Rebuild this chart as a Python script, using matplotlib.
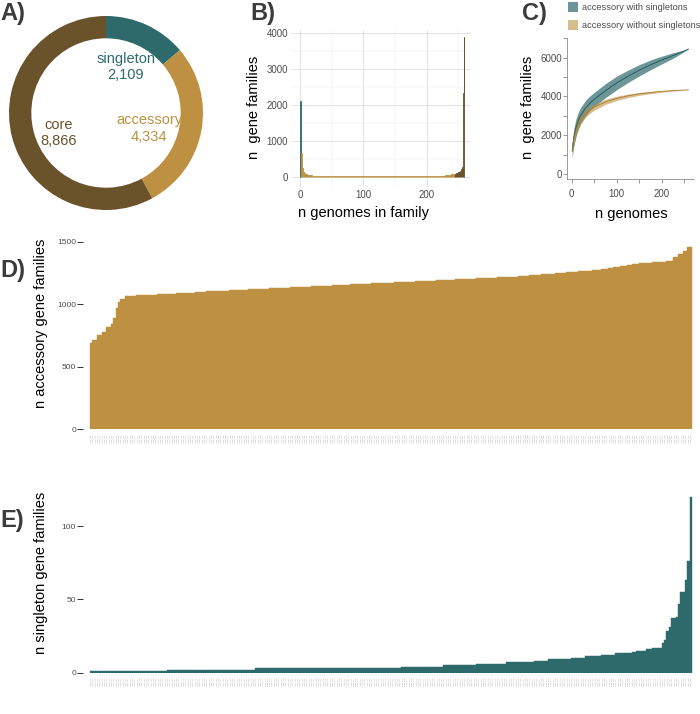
import matplotlib
matplotlib.use('Agg')
import matplotlib.pyplot as plt
import numpy as np
from matplotlib.patches import Rectangle

plt.rcParams['font.family'] = ['Liberation Sans', 'DejaVu Sans']

W, H = 700, 714

teal = '#2e6a6b'
gold = '#bd9141'
brown = '#6a522a'
tick_col = '#4d4d4d'

# A) pangenome partition
pie_labels = ['singleton', 'accessory', 'core']
pie_values = [2109, 4334, 8866]
pie_colors = [teal, gold, brown]

# B) n genomes in family histogram
singleton_n = [1]
singleton_count = [2109]
acc_n = list(range(2, 245))
acc_count = [
    660, 380, 250, 185, 145, 120, 104, 92, 82, 74,
    68, 63, 58, 54, 51, 48, 45, 43, 41, 39,
    38, 37, 36, 35, 34, 33, 33, 32, 31, 31,
    30, 30, 29, 29, 28, 28, 28, 27, 27, 27,
    26, 26, 26, 25, 25, 25, 25, 24, 24, 24,
    24, 24, 23, 23, 23, 23, 23, 22, 22, 22,
    22, 22, 22, 21, 21, 21, 21, 21, 21, 20,
    20, 21, 20, 20, 19, 20, 20, 21, 20, 20,
    19, 20, 20, 19, 20, 21, 20, 19, 20, 20,
    20, 19, 20, 21, 20, 19, 20, 20, 19, 20,
    21, 20, 19, 20, 20, 20, 19, 20, 21, 20,
    19, 20, 20, 20, 21, 20, 19, 20, 20, 19,
    20, 21, 20, 19, 20, 20, 20, 21, 20, 20,
    19, 20, 20, 20, 21, 20, 19, 20, 20, 20,
    20, 19, 20, 21, 20, 20, 19, 20, 21, 20,
    20, 20, 21, 20, 19, 20, 20, 20, 20, 21,
    20, 19, 20, 20, 20, 21, 20, 20, 19, 20,
    20, 20, 21, 20, 20, 21, 20, 21, 20, 21,
    20, 21, 21, 20, 21, 21, 21, 20, 21, 21,
    21, 21, 22, 21, 21, 21, 21, 22, 21, 21,
    21, 21, 22, 22, 22, 23, 23, 24, 24, 25,
    25, 26, 26, 27, 28, 28, 29, 30, 31, 32,
    33, 34, 35, 36, 38, 39, 41, 43, 45, 47,
    49, 52, 55, 58, 61, 64, 68, 72, 76, 80,
    85, 90, 96,
]
core_n = list(range(245, 260))
core_count = [90, 100, 108, 115, 122, 130, 140, 152, 168, 190, 225, 290, 786, 2350, 3900]

# C) accumulation curves
curve_n = [1, 3, 5, 10, 15, 20, 30, 40, 50, 75, 100, 125, 150, 175, 200, 225, 259]
with_sing_mean = [1180, 1650, 1950, 2450, 2780, 3020, 3380, 3640, 3850, 4300, 4700, 5040, 5350, 5630, 5880, 6110, 6443]
with_sing_half = [350, 420, 450, 450, 440, 420, 400, 380, 360, 360, 350, 320, 290, 250, 200, 140, 0]
without_sing_mean = [1180, 1600, 1850, 2300, 2600, 2800, 3100, 3300, 3450, 3720, 3900, 4030, 4130, 4200, 4260, 4300, 4334]
without_sing_half = [300, 300, 280, 250, 230, 210, 190, 170, 160, 130, 110, 90, 75, 60, 45, 30, 0]
legend_labels = ['accessory with singletons', 'accessory without singletons']

# D) accessory gene families per genome (sorted)
acc_per_genome = [
    693, 714, 714, 754, 754, 781, 781, 821, 821, 840,
    888, 968, 1021, 1040, 1040,
    1066, 1067, 1068, 1069, 1070, 1071, 1072, 1072, 1073, 1074,
    1075, 1076, 1077, 1078, 1079, 1080, 1081, 1082, 1083, 1084,
    1085, 1086, 1087, 1088, 1089, 1090, 1091, 1092, 1093, 1094,
    1096, 1097, 1099, 1101,
    1102, 1103, 1104, 1104, 1105, 1106, 1107, 1108, 1109, 1110,
    1110, 1111, 1112, 1113, 1114, 1115, 1116, 1117, 1118, 1119,
    1120, 1120, 1121, 1122, 1123, 1124, 1125, 1126, 1127, 1128,
    1129, 1130, 1130, 1131, 1132, 1133, 1134, 1135, 1136, 1137,
    1138, 1139, 1140, 1140, 1141, 1142, 1143, 1144, 1145, 1146,
    1147, 1148, 1149, 1150, 1150, 1151, 1152, 1153, 1154, 1155,
    1156, 1157, 1158, 1159, 1160, 1160, 1161, 1162, 1163, 1164,
    1165, 1166, 1167, 1168, 1169, 1170, 1170, 1171, 1172, 1172,
    1173,
    1174, 1175, 1176, 1177, 1178, 1179, 1180, 1181, 1181, 1182,
    1183, 1184, 1185, 1186, 1187, 1188, 1189, 1190, 1190, 1191,
    1192, 1193, 1194, 1195, 1196, 1197, 1198, 1199, 1199, 1200,
    1201, 1202, 1203, 1204, 1205, 1206, 1207, 1208, 1208, 1209,
    1210, 1211, 1212, 1213, 1214, 1215, 1216, 1217, 1218, 1219,
    1220, 1220, 1221,
    1222, 1224, 1225, 1227, 1228, 1230, 1231, 1233, 1234, 1236,
    1237, 1239, 1240, 1242, 1243, 1245, 1246, 1248, 1249, 1251,
    1252, 1254, 1255, 1257, 1258, 1260, 1261, 1263, 1264, 1266,
    1267, 1269, 1270, 1272, 1273, 1274,
    1277, 1280, 1283, 1286, 1289, 1292, 1295, 1298, 1301, 1304,
    1307, 1310, 1313, 1316, 1319, 1322, 1325, 1328,
    1329, 1330, 1332, 1333, 1334, 1336, 1337, 1338, 1340, 1341,
    1342, 1344, 1345, 1346,
    1381, 1381, 1402, 1402, 1429, 1429, 1461, 1461,
]

# E) singleton gene families per genome (sorted), as runs of equal values
sing_levels = [1, 2, 3, 4, 5, 6, 7, 8, 9, 10, 11, 12, 13, 14, 15, 16, 17,
               20, 22, 28, 31, 37, 38, 47, 55, 63, 76, 120]
sing_runs = [33, 38, 63, 18, 14, 13, 12, 6, 10, 6, 7, 6, 7, 2, 4, 3, 4,
             1, 1, 1, 1, 2, 1, 1, 2, 1, 1, 1]
sing_per_genome = np.repeat(sing_levels, sing_runs)

genome_names = ['isolate_%03d' % (i + 1) for i in range(len(acc_per_genome))]


def box(l, t, r, b):
    return [l / W, 1 - b / H, (r - l) / W, (b - t) / H]


def edges(ns):
    ns = np.asarray(ns, dtype=float)
    return np.append(ns - 0.5, ns[-1] + 0.5)


fig = plt.figure(figsize=(W / 100, H / 100), dpi=100)


def ftext(x, y, s, **kw):
    fig.text(x / W, 1 - y / H, s, **kw)


# panel letters
for letter, x, y in [('A)', 0, 20), ('B)', 250, 20), ('C)', 522, 20),
                     ('D)', 0, 277), ('E)', 0, 527)]:
    ftext(x, y, letter, fontsize=17, fontweight='bold', color='#3c3c3c',
          ha='left', va='baseline')

# ---- A
axA = fig.add_axes(box(9, 16, 203, 210))
axA.pie(pie_values, colors=pie_colors, startangle=90, counterclock=False,
        radius=1, wedgeprops=dict(width=0.23, edgecolor='none'))
axA.set_xlim(-1, 1)
axA.set_ylim(-1, 1)
axA.set_aspect('equal')
axA.axis('off')
pie_pos = [(126, 63, 79), (149, 124, 141), (59, 129, 145)]
for lab, val, col, (x, y1, y2) in zip(pie_labels, pie_values, pie_colors, pie_pos):
    ftext(x, y1, lab, fontsize=10.5, color=col, ha='center', va='baseline')
    ftext(x, y2, f'{val:,}', fontsize=10.5, color=col, ha='center', va='baseline')

# ---- B
axB = fig.add_axes(box(291, 30, 470, 187))
axB.stairs(singleton_count, [0.2, 1.6], fill=True, facecolor=teal,
           edgecolor=teal, linewidth=0.6)
axB.stairs(acc_count, edges(acc_n), fill=True, facecolor=gold,
           edgecolor=gold, linewidth=0.6)
axB.stairs(core_count, edges(core_n), fill=True, facecolor=brown,
           edgecolor=brown, linewidth=0.6)
axB.set_xlim(-14.2, 268.3)
axB.set_ylim(-279, 4094)
axB.set_xticks([0, 100, 200])
axB.set_xticks([50, 150, 250], minor=True)
axB.set_yticks([0, 1000, 2000, 3000, 4000])
axB.set_yticks([500, 1500, 2500, 3500], minor=True)
axB.grid(which='major', color='#dedede', linewidth=0.6)
axB.grid(which='minor', color='#eeeeee', linewidth=0.35)
axB.set_axisbelow(True)
for s in axB.spines.values():
    s.set_visible(False)
axB.tick_params(which='both', length=0, labelsize=7, labelcolor=tick_col, pad=2)
ftext(254, 107, 'n  gene families', fontsize=10.5, rotation=90, ha='center', va='center')
ftext(363, 213, 'n genomes in family', fontsize=10.5, ha='center', va='center')

# ---- C
axC = fig.add_axes(box(567.3, 38, 694.3, 179.3))
axC.fill_between(curve_n, np.subtract(with_sing_mean, with_sing_half),
                 np.add(with_sing_mean, with_sing_half), color=teal, alpha=0.7, linewidth=0)
axC.plot(curve_n, with_sing_mean, color='#1f5253', linewidth=0.6)
axC.fill_between(curve_n, np.subtract(without_sing_mean, without_sing_half),
                 np.add(without_sing_mean, without_sing_half), color=gold, alpha=0.6, linewidth=0)
axC.plot(curve_n, without_sing_mean, color='#a97c30', linewidth=0.6)
axC.set_xlim(-10, 272)
axC.set_ylim(-280, 7014)
axC.set_xticks([0, 100, 200])
axC.set_xticks([50, 150, 250], minor=True)
axC.set_yticks([0, 2000, 4000, 6000])
axC.set_yticks([1000, 3000, 5000, 7000], minor=True)
for s in ['top', 'right']:
    axC.spines[s].set_visible(False)
for s in ['left', 'bottom']:
    axC.spines[s].set_color('#8a8a8a')
    axC.spines[s].set_linewidth(0.6)
axC.tick_params(which='both', length=2.6, width=0.6, color='#8a8a8a',
                labelsize=7, labelcolor=tick_col)
axC.tick_params(axis='y', which='major', pad=1.2)
axC.tick_params(axis='x', which='major', pad=4.5)
ftext(528, 107, 'n  gene families', fontsize=10.5, rotation=90, ha='center', va='center')
ftext(631, 214, 'n genomes', fontsize=10.5, ha='center', va='center')

for (y0, col, a), lab in zip([(2, teal, 0.7), (20, gold, 0.6)], legend_labels):
    fig.add_artist(Rectangle((568 / W, 1 - (y0 + 10) / H), 10 / W, 10 / H,
                             transform=fig.transFigure, facecolor=col, alpha=a,
                             edgecolor='none'))
    ftext(582, y0 + 5, lab, fontsize=6.7, color=tick_col, ha='left', va='center')

# ---- D and E
xpos = np.arange(len(acc_per_genome))
for top, bot, vals, col, ylim, yt, ylab, ylab_y in [
        (236, 429.3, acc_per_genome, gold, 1546, [0, 500, 1000, 1500],
         'n accessory gene families', 323),
        (490, 672.5, sing_per_genome, teal, 124.6, [0, 50, 100],
         'n singleton gene families', 573)]:
    ax = fig.add_axes(box(83, top, 698, bot))
    ax.bar(xpos, vals, width=1, color=col, edgecolor=col, linewidth=0.3)
    ax.set_xlim(-3.51, 261.08)
    ax.set_ylim(0, ylim)
    ax.set_yticks(yt)
    ax.set_xticks(xpos)
    ax.set_xticklabels(genome_names, rotation=90, fontsize=1.4, color='#a0a0a0')
    for s in ax.spines.values():
        s.set_visible(False)
    ax.tick_params(axis='x', length=0, pad=3)
    ax.tick_params(axis='y', length=4, width=0.7, color='#333333',
                   labelsize=6, labelcolor=tick_col, pad=1)
    ftext(41, ylab_y, ylab, fontsize=10.5, rotation=90, ha='center', va='center')

fig.savefig('out.png', dpi=100)
